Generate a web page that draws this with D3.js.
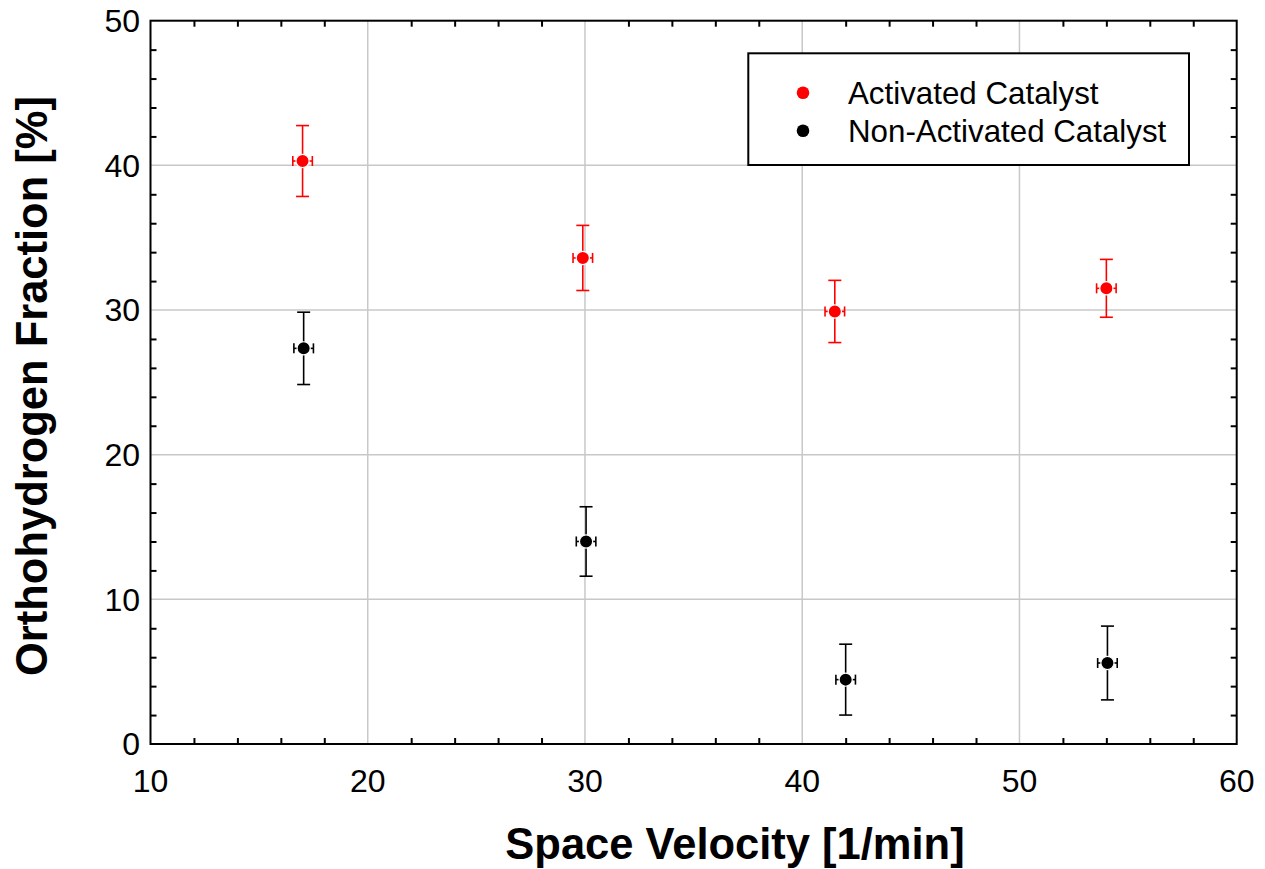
<!DOCTYPE html>
<html><head><meta charset="utf-8">
<script src="https://cdn.jsdelivr.net/npm/d3@7"></script>
<style>body{margin:0;background:#fff}svg{display:block}text{font-family:"Liberation Sans",Arial,sans-serif}</style>
</head><body>
<svg id="c" width="1265" height="869"></svg>
<script>
const seriesNames = ["Activated Catalyst", "Non-Activated Catalyst"];
const seriesColors = ["#ff0000", "#000000"];
const actX = [17.0, 29.9, 41.5, 54.0];
const actY = [40.3, 33.6, 29.9, 31.5];
const actErr = [2.45, 2.25, 2.15, 2.0];
const nonX = [17.05, 30.05, 42.0, 54.05];
const nonY = [27.35, 14.0, 4.45, 5.6];
const nonErr = [2.5, 2.4, 2.45, 2.55];
const xErr = 0.45;
const xTicks = [10, 20, 30, 40, 50, 60];
const yTicks = [0, 10, 20, 30, 40, 50];

const svg = d3.select("#c");
const L = 150.5, R = 1236.7, T = 20.7, B = 744;
const x = d3.scaleLinear().domain([10, 60]).range([L, R]);
const y = d3.scaleLinear().domain([0, 50]).range([B, T]);

// grid
const g = svg.append("g");
g.selectAll(".gx").data(xTicks.slice(1, -1)).join("line")
  .attr("x1", d => x(d)).attr("x2", d => x(d)).attr("y1", T).attr("y2", B)
  .attr("stroke", "#c8c8c8").attr("stroke-width", 1.5);
g.selectAll(".gy").data(yTicks.slice(1, -1)).join("line")
  .attr("y1", d => y(d)).attr("y2", d => y(d)).attr("x1", L).attr("x2", R)
  .attr("stroke", "#c8c8c8").attr("stroke-width", 1.5);

// minor ticks (inward, all sides)
const minorX = d3.range(12, 60, 2).filter(v => v % 10 !== 0);
const minorY = d3.range(2, 50, 2).filter(v => v % 10 !== 0);
const tl = 6;
svg.append("g").call(d3.axisBottom(x).tickValues(minorX).tickSize(-tl).tickFormat(""))
  .attr("transform", `translate(0,${B})`).call(a => a.select(".domain").remove())
  .selectAll("line").attr("stroke-width", 2);
svg.append("g").call(d3.axisTop(x).tickValues(minorX).tickSize(-tl).tickFormat(""))
  .attr("transform", `translate(0,${T})`).call(a => a.select(".domain").remove())
  .selectAll("line").attr("stroke-width", 2);
svg.append("g").call(d3.axisLeft(y).tickValues(minorY).tickSize(-tl).tickFormat(""))
  .attr("transform", `translate(${L},0)`).call(a => a.select(".domain").remove())
  .selectAll("line").attr("stroke-width", 2);
svg.append("g").call(d3.axisRight(y).tickValues(minorY).tickSize(-tl).tickFormat(""))
  .attr("transform", `translate(${R},0)`).call(a => a.select(".domain").remove())
  .selectAll("line").attr("stroke-width", 2);

// frame
svg.append("rect").attr("x", L).attr("y", T).attr("width", R - L).attr("height", B - T)
  .attr("fill", "none").attr("stroke", "#000").attr("stroke-width", 2);

// tick labels
svg.append("g").selectAll("text").data(xTicks).join("text")
  .attr("x", d => x(d)).attr("y", 792).attr("text-anchor", "middle")
  .attr("font-size", 32).text(d => d);
svg.append("g").selectAll("text").data(yTicks).join("text")
  .attr("x", 140).attr("y", d => y(d)).attr("dy", "0.35em").attr("text-anchor", "end")
  .attr("font-size", 32).text(d => d);

// axis titles
svg.append("text").attr("x", 735).attr("y", 859).attr("text-anchor", "middle")
  .attr("font-size", 43.5).attr("font-weight", "bold").text("Space Velocity [1/min]");
svg.append("text").attr("transform", `translate(47,${386}) rotate(-90)`).attr("text-anchor", "middle")
  .attr("font-size", 43.5).attr("font-weight", "bold").text("Orthohydrogen Fraction [%]");

// data
const series = [
  {xs: actX, ys: actY, es: actErr, color: seriesColors[0]},
  {xs: nonX, ys: nonY, es: nonErr, color: seriesColors[1]}
];
const cap = 6.5, hcap = 5;
series.forEach(s => {
  const pts = s.xs.map((v, i) => ({x: v, y: s.ys[i], e: s.es[i]}));
  const gg = svg.append("g").attr("stroke", s.color).attr("stroke-width", 1.6).attr("fill", s.color);
  pts.forEach(p => {
    const cx = x(p.x), cy = y(p.y);
    const y1 = y(p.y + p.e), y2 = y(p.y - p.e);
    const x1 = x(p.x - xErr), x2 = x(p.x + xErr);
    gg.append("line").attr("x1", cx).attr("x2", cx).attr("y1", y1).attr("y2", y2);
    gg.append("line").attr("x1", cx - cap).attr("x2", cx + cap).attr("y1", y1).attr("y2", y1);
    gg.append("line").attr("x1", cx - cap).attr("x2", cx + cap).attr("y1", y2).attr("y2", y2);
    gg.append("line").attr("x1", x1).attr("x2", x2).attr("y1", cy).attr("y2", cy);
    gg.append("line").attr("x1", x1).attr("x2", x1).attr("y1", cy - hcap).attr("y2", cy + hcap);
    gg.append("line").attr("x1", x2).attr("x2", x2).attr("y1", cy - hcap).attr("y2", cy + hcap);
    gg.append("circle").attr("cx", cx).attr("cy", cy).attr("r", 6.6).attr("stroke", "#fff").attr("stroke-width", 1.2);
  });
});

// legend
const lg = svg.append("g");
lg.append("rect").attr("x", 748.3).attr("y", 53.3).attr("width", 440.7).attr("height", 111.7)
  .attr("fill", "#fff").attr("stroke", "#000").attr("stroke-width", 2);
seriesNames.forEach((n, i) => {
  const ly = 92.7 + i * 38;
  lg.append("circle").attr("cx", 803).attr("cy", ly).attr("r", 6.3).attr("fill", seriesColors[i]);
  lg.append("text").attr("x", 848).attr("y", ly).attr("dy", "0.35em").attr("font-size", 31.3).text(n);
});
</script>
</body></html>
